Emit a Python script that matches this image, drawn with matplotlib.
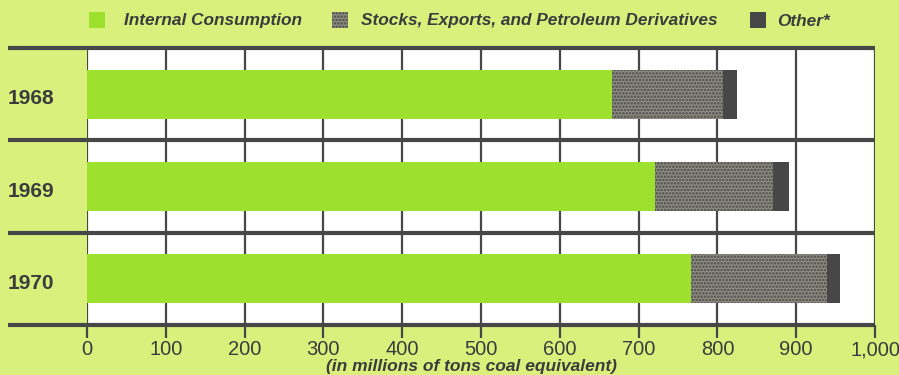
import matplotlib.pyplot as plt
from matplotlib.patches import Rectangle

years = ['1968', '1969', '1970']
internal = [666, 721, 766]
stocks = [141, 149, 173]
other = [18, 21, 16]

series_names = ['Internal Consumption', 'Stocks, Exports, and Petroleum Derivatives', 'Other*']
xticks = [0, 100, 200, 300, 400, 500, 600, 700, 800, 900, 1000]
xticklabels = ['0', '100', '200', '300', '400', '500', '600', '700', '800', '900', '1,000']

bg = '#d9f07d'
green = '#9ee02e'
stock_face = '#8c8c84'
dark = '#474747'
text_c = '#3c3c3c'

plt.rcParams['font.family'] = ['Liberation Sans', 'DejaVu Sans']
plt.rcParams['hatch.linewidth'] = 1.2

fig = plt.figure(figsize=(8.99, 3.75), dpi=100, facecolor=bg)
ax = fig.add_axes([87 / 899, 50 / 375, 788 / 899, 277 / 375])
ax.set_facecolor('white')

ypos = list(range(len(years)))
h = 0.53
ax.barh(ypos, internal, height=h, color=green, zorder=3)
ax.barh(ypos, stocks, left=internal, height=h, color=stock_face,
        hatch='.....', edgecolor='#4a4a44', linewidth=0, zorder=3)
lefts = [a + b for a, b in zip(internal, stocks)]
ax.barh(ypos, other, left=lefts, height=h, color=dark, zorder=3)

ax.set_xlim(0, 1000)
ax.set_ylim(len(years) - 0.5, -0.5)

# vertical grid inside the white panel
for x in xticks:
    ax.axvline(x, color=dark, lw=1.6, zorder=2)

# row separators, running out to the left under the year labels
for i in range(len(years) + 1):
    ax.plot([-100, 1000], [i - 0.5, i - 0.5], color=dark, lw=3,
            clip_on=False, zorder=4, solid_capstyle='butt')

for i, yr in enumerate(years):
    ax.text(-71, i + 0.05, yr, ha='center', va='center', fontsize=15,
            fontweight='bold', color=text_c)

for s in ax.spines.values():
    s.set_visible(False)
ax.set_yticks([])
ax.set_xticks(xticks)
ax.set_xticklabels(xticklabels, fontsize=14.5, color=text_c)
ax.tick_params(axis='x', direction='out', length=9, width=1.6, color=dark, pad=2)
fig.text(471 / 899, 1 - 366 / 375, '(in millions of tons coal equivalent)',
         fontsize=12.5, fontstyle='italic', fontweight='bold', color=text_c,
         ha='center', va='center')

# legend row
leg_x = [89, 332, 750]
leg_text_x = [124, 361, 777]
for k in range(3):
    fc = [green, stock_face, dark][k]
    hatch = [None, '.....', None][k]
    fig.patches.append(Rectangle((leg_x[k] / 899, 1 - 28 / 375), 16 / 899, 16 / 375,
                                 transform=fig.transFigure, facecolor=fc,
                                 hatch=hatch, edgecolor='#4a4a44', linewidth=0))
    fig.text(leg_text_x[k] / 899, 1 - 21 / 375, series_names[k], fontsize=12.4,
             fontstyle='italic', fontweight='bold', color=text_c, va='center')

plt.savefig('out.png', dpi=100, facecolor=bg)
